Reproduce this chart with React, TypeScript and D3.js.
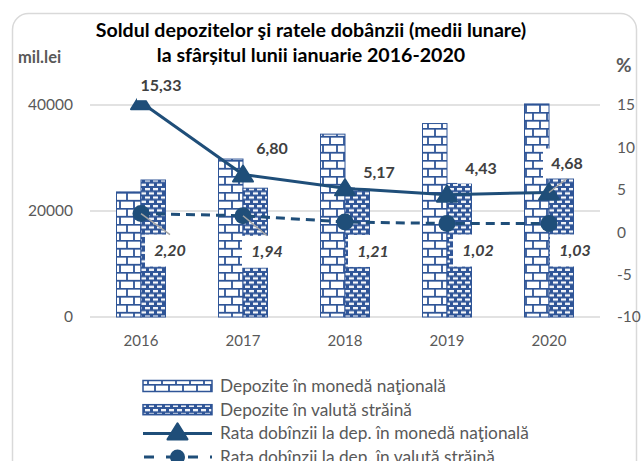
import React from 'react';
import * as d3 from 'd3';

// ---- data ----
const years = ['2016', '2017', '2018', '2019', '2020'];
const depNational = [23600, 29800, 34500, 36500, 40200];
const depForeign = [25850, 24300, 24100, 25200, 26150];
const rateNational = [15.33, 6.8, 5.17, 4.43, 4.68];
const rateForeign = [2.2, 1.94, 1.21, 1.02, 1.03];
const leftTicks = [0, 20000, 40000];
const rightTicks = [-10, -5, 0, 5, 10, 15];
const legendLabels = [
  'Depozite în monedă naţională',
  'Depozite în valută străină',
  'Rata dobînzii la dep. în monedă naţională',
  'Rata dobînzii la dep. în valută străină',
];
const titleLines = [
  'Soldul depozitelor şi ratele dobânzii (medii lunare)',
  'la sfârșitul lunii ianuarie 2016-2020',
];

// ---- layout / style ----
const W = 643;
const H = 461;
const FONT = 'Lato, "Noto Sans", sans-serif';
const BLUE = '#2F5597';
const LINE = '#1F4E79';
const TXT = '#595959';
const LBL = '#404040';
const natLabelOffset = [[20, -17], [29, -26], [34, -16], [34, -26], [18, -29]];
const forLabelOffset = [[29, 37], [24, 36], [28, 29], [31, 27], [26, 27]];
const natLeader = [false, false, false, false, true];
const forLeader = [true, true, false, false, false];

const fmt = (v: number) => d3.format('.2f')(v).replace('.', ',');

const tri = 'M0,-9 L10,7 L-10,7 Z';

export default function App() {
  const x = d3.scaleBand<string>().domain(years).range([90, 600]).paddingInner(0);
  const yL = d3.scaleLinear().domain([0, 40000]).range([317, 105]);
  const yR = d3.scaleLinear().domain([-10, 15]).range([317, 105]);
  const barW = 24.5;
  const cx = (i: number) => (x(years[i]) as number) + x.bandwidth() / 2;

  const lineGen = d3
    .line<number>()
    .x((_, i) => cx(i))
    .y((d) => yR(d))
    .curve(d3.curveLinear);

  const natBox = { w: 48, h: 30 };
  const forBox = { w: 50, h: 32 };

  return (
    <svg
      width={W}
      height={H}
      style={{ position: 'absolute', left: 0, top: 0, background: '#fff' }}
      fontFamily={FONT}
    >
      <defs>
        <pattern id="natBrick" patternUnits="userSpaceOnUse" width={14} height={16}>
          <rect width={14} height={16} fill="#fff" />
          <line x1={0} x2={14} y1={0.75} y2={0.75} stroke={BLUE} strokeWidth={1.8} />
          <line x1={0} x2={14} y1={8.75} y2={8.75} stroke={BLUE} strokeWidth={1.8} />
          <line x1={1} x2={1} y1={0} y2={8.75} stroke={BLUE} strokeWidth={1.8} />
          <line x1={8} x2={8} y1={8.75} y2={16} stroke={BLUE} strokeWidth={1.8} />
        </pattern>
        <pattern id="forBrick" patternUnits="userSpaceOnUse" width={8} height={8.5}>
          <rect width={8} height={8.5} fill={BLUE} />
          <rect x={1} y={1} width={5} height={2.2} fill="#fff" />
          <rect x={5} y={5.25} width={5} height={2.2} fill="#fff" />
          <rect x={-3} y={5.25} width={5} height={2.2} fill="#fff" />
        </pattern>
      </defs>

      {/* frame */}
      <rect x={12.5} y={13.5} width={624} height={480} rx={16} fill="#fff" stroke="#d9d9d9" strokeWidth={1.5} />

      {/* title */}
      {titleLines.map((t, i) => (
        <text key={t} x={311} y={37 + i * 25} textAnchor="middle" fontWeight="bold" fontSize={19.6} fill="#000">
          {t}
        </text>
      ))}
      <text x={18} y={63} fontWeight="bold" fontSize={16.5} fill={TXT}>mil.lei</text>
      <text x={616} y={72} fontWeight="bold" fontSize={19} fill={TXT}>%</text>

      {/* gridlines */}
      {leftTicks.map((t) => (
        <line key={t} x1={90} x2={600} y1={yL(t)} y2={yL(t)} stroke="#d9d9d9" strokeWidth={1.3} />
      ))}
      {/* left ticks */}
      {leftTicks.map((t) => (
        <text key={t} x={73} y={yL(t)} dy="0.35em" textAnchor="end" fontSize={15.5} fill={TXT}>
          {t}
        </text>
      ))}
      {/* right ticks */}
      {rightTicks.map((t) => (
        <text key={t} x={617} y={yR(t)} dy="0.35em" textAnchor="start" fontSize={15.5} fill={TXT}>
          {t}
        </text>
      ))}
      {/* x labels */}
      {years.map((yr, i) => (
        <text key={yr} x={cx(i)} y={346} textAnchor="middle" fontSize={15} fill={TXT}>
          {yr}
        </text>
      ))}

      {/* bars */}
      {years.map((yr, i) => (
        <g key={yr}>
          <rect
            x={cx(i) - barW}
            y={yL(depNational[i])}
            width={barW}
            height={yL(0) - yL(depNational[i])}
            fill="url(#natBrick)"
            stroke={BLUE}
            strokeWidth={1}
          />
          <rect
            x={cx(i)}
            y={yL(depForeign[i])}
            width={barW}
            height={yL(0) - yL(depForeign[i])}
            fill="url(#forBrick)"
            stroke={BLUE}
            strokeWidth={1}
          />
        </g>
      ))}

      {/* lines */}
      <path d={lineGen(rateNational) || ''} fill="none" stroke={LINE} strokeWidth={3} />
      <path
        d={lineGen(rateForeign) || ''}
        fill="none"
        stroke={LINE}
        strokeWidth={3}
        strokeDasharray="9 6"
      />
      {rateNational.map((v, i) => (
        <path
          key={'t' + i}
          d={tri}
          transform={`translate(${cx(i)},${yR(v)})`}
          fill={LINE}
          stroke={LINE}
          strokeWidth={2}
          strokeLinejoin="round"
        />
      ))}
      {rateForeign.map((v, i) => (
        <circle key={'c' + i} cx={cx(i)} cy={yR(v)} r={8.5} fill={LINE} />
      ))}

      {/* label boxes */}
      {rateNational.map((v, i) => {
        const lx = cx(i) + natLabelOffset[i][0];
        const ly = yR(v) + natLabelOffset[i][1];
        return (
          <rect key={'nb' + i} x={lx - natBox.w / 2} y={ly - natBox.h / 2} width={natBox.w} height={natBox.h} fill="#fff" />
        );
      })}
      {rateForeign.map((v, i) => {
        const lx = cx(i) + forLabelOffset[i][0];
        const ly = yR(v) + forLabelOffset[i][1];
        return (
          <rect key={'fb' + i} x={lx - forBox.w / 2} y={ly - forBox.h / 2} width={forBox.w} height={forBox.h} fill="#fff" />
        );
      })}

      {/* leader lines */}
      {rateNational.map((v, i) => {
        if (!natLeader[i]) return null;
        const lx = cx(i) + natLabelOffset[i][0];
        const ly = yR(v) + natLabelOffset[i][1];
        return <line key={'nl' + i} x1={cx(i)} y1={yR(v)} x2={lx} y2={ly + natBox.h / 2} stroke="#a6a6a6" strokeWidth={1.5} />;
      })}
      {rateForeign.map((v, i) => {
        if (!forLeader[i]) return null;
        const lx = cx(i) + forLabelOffset[i][0];
        const ly = yR(v) + forLabelOffset[i][1];
        return <line key={'fl' + i} x1={cx(i)} y1={yR(v)} x2={lx} y2={ly - forBox.h / 2} stroke="#a6a6a6" strokeWidth={1.5} />;
      })}

      {/* labels */}
      {rateNational.map((v, i) => (
        <text
          key={'nt' + i}
          x={cx(i) + natLabelOffset[i][0]}
          y={yR(v) + natLabelOffset[i][1]}
          dy="0.35em"
          textAnchor="middle"
          fontWeight="bold"
          fontSize={16}
          fill={LBL}
        >
          {fmt(v)}
        </text>
      ))}
      {rateForeign.map((v, i) => (
        <text
          key={'ft' + i}
          x={cx(i) + forLabelOffset[i][0]}
          y={yR(v) + forLabelOffset[i][1]}
          dy="0.35em"
          textAnchor="middle"
          fontWeight="bold"
          fontStyle="italic"
          fontSize={16}
          fill={LBL}
        >
          {fmt(v)}
        </text>
      ))}

      {/* legend */}
      {legendLabels.map((lab, i) => {
        const ly = 386 + i * 23.7;
        return (
          <g key={lab}>
            {i === 0 && (
              <rect x={143} y={ly - 5.5} width={69} height={11} fill="url(#natBrick)" stroke={BLUE} strokeWidth={1.5} />
            )}
            {i === 1 && (
              <rect x={143} y={ly - 5} width={69} height={10} fill="url(#forBrick)" stroke={BLUE} strokeWidth={1.5} />
            )}
            {i === 2 && (
              <g>
                <line x1={143} x2={212} y1={ly} y2={ly} stroke={LINE} strokeWidth={3} />
                <path d={tri} transform={`translate(177.5,${ly - 1})`} fill={LINE} stroke={LINE} strokeWidth={2} strokeLinejoin="round" />
              </g>
            )}
            {i === 3 && (
              <g>
                <line x1={143} x2={212} y1={ly} y2={ly} stroke={LINE} strokeWidth={3} strokeDasharray="10 12" strokeDashoffset={-1} />
                <circle cx={177.5} cy={ly} r={7.5} fill={LINE} />
              </g>
            )}
            <text x={220} y={ly} dy="0.35em" fontSize={17.3} fill={TXT}>
              {lab}
            </text>
          </g>
        );
      })}
    </svg>
  );
}
